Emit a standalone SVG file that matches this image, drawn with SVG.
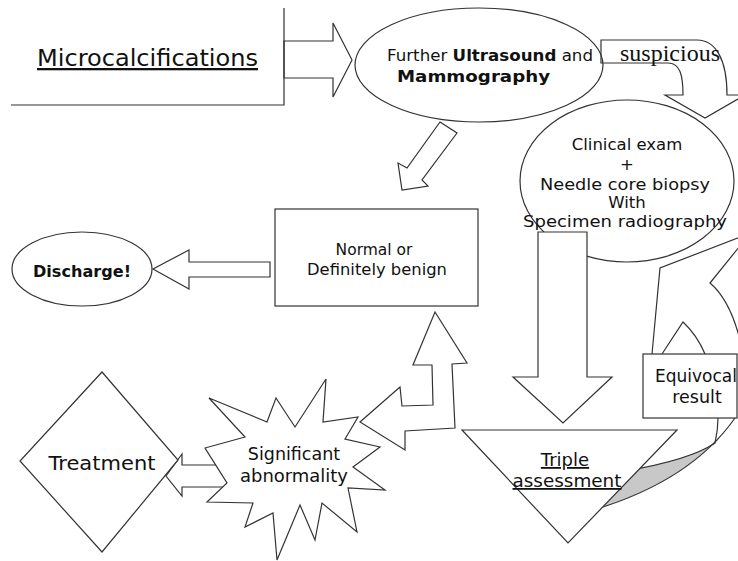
<svg xmlns="http://www.w3.org/2000/svg" width="738" height="561" viewBox="0 0 738 561">
<style>
.ln{fill:none;stroke:#333;stroke-width:1.2}
.sh{fill:#fff;stroke:#333;stroke-width:1.2}
.t{font-family:"DejaVu Sans","Liberation Sans",sans-serif;fill:#111}
.c{text-anchor:middle}
.u{text-decoration:underline}
</style>
<rect width="738" height="561" fill="#fff"/>
<g id="connectors">
<path d="M590,511 Q690,482 735,418 L715,444 Q690,460 625,471 Z" fill="#c8c8c8" stroke="none"/>
<path class="ln" d="M590,511 Q690,482 735,418"/>
<path class="ln" d="M625,471 Q690,460 715,443 Q718,430 718,418"/>
<path class="ln" d="M662,354 L683,322 Q697,335 705,354"/>
<path class="ln" d="M652,354 L660,268 L748,234"/>
<path class="ln" d="M748,236 L710,283 Q730,300 740,340"/>
<polygon class="sh" points="284,41 333,41 333,23 352,60 333,97 333,78 284,78"/>
<polygon class="sh" points="440,122 457,133 422,180 428,186 402,190 398,163 407,168"/>
<polygon class="sh" points="270,262 189,262 189,250 153,269 189,289 189,277 270,277"/>
<polygon class="sh" points="228,465 182,465 182,454 166,476 182,496 182,487 233,487 224,477"/>
<polygon class="sh" points="435,312 467,363 452,364 455,428 405,431 405,450 360,422 400,387 402,406 433,405 432,365 413,365"/>
</g>
<g id="microcalcifications">
<path class="ln" d="M11,105 H284 V8"/>
<text class="t u" x="37" y="66" font-size="23" textLength="221" lengthAdjust="spacingAndGlyphs">Microcalcifications</text>
</g>
<g id="further">
<ellipse class="sh" cx="479" cy="65" rx="124" ry="57"/>
<text class="t" x="387" y="61" font-size="16.5" textLength="206" lengthAdjust="spacingAndGlyphs">Further <tspan font-weight="bold">Ultrasound</tspan> and</text>
<text class="t" x="397" y="82" font-size="16.5" font-weight="bold" textLength="153" lengthAdjust="spacingAndGlyphs">Mammography</text>
</g>
<g id="suspicious-arrow">
<path class="ln" d="M601,40 H697 C716,40 727,60 727,95 H745 L705,118 L665,95 H683 C683,75 680,63 668,63 H601 Z" fill="#fff"/>
<text x="620" y="61" font-family="'Liberation Serif',serif" font-size="23" textLength="100" lengthAdjust="spacingAndGlyphs" fill="#111">suspicious</text>
</g>
<g id="clinical">
<ellipse class="sh" cx="627" cy="181" rx="107" ry="81"/>
<polygon class="sh" points="538,232 587,232 587,377 612,377 563,423 513,377 538,377"/>
<text class="t c" x="627" y="150" font-size="16.5">Clinical exam</text>
<text class="t c" x="627" y="170" font-size="16.5">+</text>
<text class="t" x="540" y="190" font-size="16.5" textLength="170" lengthAdjust="spacingAndGlyphs">Needle core biopsy</text>
<text class="t c" x="627" y="208" font-size="16.5">With</text>
<text class="t" x="523" y="227" font-size="16.5" textLength="204" lengthAdjust="spacingAndGlyphs">Specimen radiography</text>
</g>
<g id="normal">
<rect class="sh" x="275" y="209" width="203" height="97"/>
<text class="t c" x="374" y="255" font-size="15.5" fill="#333">Normal or</text>
<text class="t" x="307" y="275" font-size="15.5" fill="#333" textLength="140" lengthAdjust="spacingAndGlyphs">Definitely benign</text>
</g>
<g id="discharge">
<ellipse class="sh" cx="82" cy="269" rx="70" ry="37"/>
<text class="t c" x="82" y="277" font-size="15.5" font-weight="bold" textLength="98" lengthAdjust="spacingAndGlyphs">Discharge!</text>
</g>
<g id="treatment">
<polygon class="sh" points="102,372 178,460 102,552 20,461"/>
<text class="t c" x="102" y="470" font-size="19.5" textLength="107" lengthAdjust="spacingAndGlyphs">Treatment</text>
</g>
<g id="significant">
<polygon class="sh" points="209,398 267,422 276,398 295,427 326,379 323,422 358,417 345,439 380,447 353,467 385,490 348,488 357,532 322,503 315,540 300,505 277,560 273,513 245,527 253,503 207,502 227,483 205,448 245,437"/>
<text class="t c" x="294" y="460" font-size="17.5">Significant</text>
<text class="t c" x="294" y="482" font-size="17.5" textLength="108" lengthAdjust="spacingAndGlyphs">abnormality</text>
</g>
<g id="triple">
<polygon class="sh" points="462,430 677,430 568,543"/>
<text class="t c u" x="565" y="466" font-size="18">Triple</text>
<text class="t c u" x="567" y="487" font-size="18" textLength="109" lengthAdjust="spacingAndGlyphs">assessment</text>
</g>
<g id="equivocal">
<rect class="sh" x="643" y="354" width="94" height="64"/>
<text class="t" x="655" y="382" font-size="17.5" textLength="82" lengthAdjust="spacingAndGlyphs">Equivocal</text>
<text class="t c" x="697" y="403" font-size="17.5">result</text>
</g>
</svg>
